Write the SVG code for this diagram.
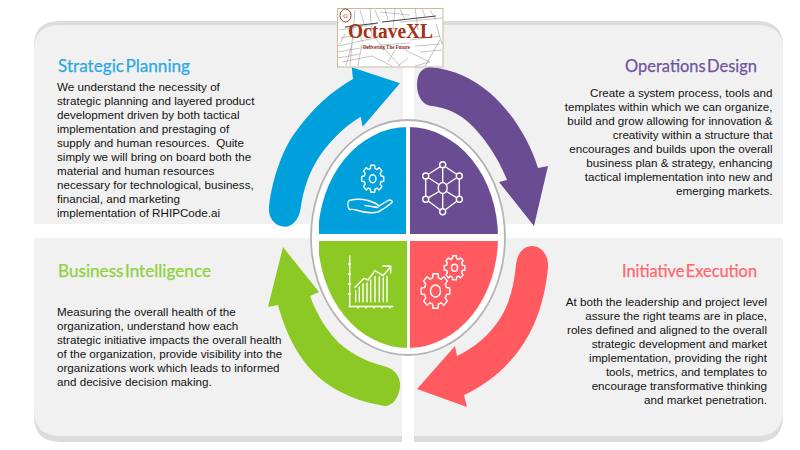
<svg xmlns="http://www.w3.org/2000/svg" width="800" height="450" viewBox="0 0 800 450">
<style>
.shadow{fill:#dcdcdc}.panel{fill:#f1f1f1}
.body{font-family:"Liberation Sans",Arial,sans-serif;font-size:11.65px;fill:#111}
.r{text-anchor:end}
.title{font-family:Lato,"Open Sans",sans-serif;font-size:17.5px;word-spacing:-3px;stroke-width:.25px}
.ic{fill:none;stroke:#fff;stroke-width:1.4;stroke-linecap:round;stroke-linejoin:round}
.sk{fill:none;stroke:#8a8a8a;stroke-width:.5}
.gear{vector-effect:non-scaling-stroke}
</style>
<defs>
<clipPath id="ec"><ellipse cx="408" cy="237.5" rx="90" ry="110.5"/></clipPath>
<path id="gear" class="gear" d="M-2.020-7.530L-1.740-9.850L1.740-9.850L2.020-7.530L3.900-6.750L5.740-8.190L8.190-5.740L6.750-3.900L7.530-2.020L9.850-1.740L9.850 1.740L7.530 2.020L6.750 3.900L8.190 5.740L5.740 8.190L3.900 6.750L2.020 7.530L1.740 9.850L-1.740 9.850L-2.020 7.530L-3.900 6.750L-5.740 8.190L-8.190 5.740L-6.750 3.900L-7.530 2.020L-9.850 1.740L-9.850-1.740L-7.530-2.020L-6.750-3.900L-8.190-5.740L-5.740-8.190L-3.900-6.750Z"/>
</defs>
<rect width="800" height="450" fill="#fff"/>
<g id="panels">
<path class="shadow" d="M34 224V45Q34 21 60 21H403V224Z"/>
<path class="panel" d="M34 224V50Q34 25 60 25H403V224Z"/>
<path class="shadow" d="M414 224V21H757Q783 21 783 47V224Z"/>
<path class="panel" d="M414 224V25H757Q783 25 783 50V224Z"/>
<path class="shadow" d="M34 238H402V442H60Q34 442 34 416Z"/>
<path class="panel" d="M34 238H402V436H60Q34 436 34 410Z"/>
<path class="shadow" d="M414 238H783V416Q783 442 757 442H414Z"/>
<path class="panel" d="M414 238H783V410Q783 436 757 436H414Z"/>
</g>
<g id="connectors">
<path fill="#00a0dc" d="M269 207C272 178 284 146 297 130C313 108 332 91 353 79L351.700 67.300L400 83.300L362.700 126.700L360.700 116.700C342 128 325 146 316 162C307 177 303 193 300.700 208C299 220 292 226.700 285 226.700C275 226.700 268 218 269 207Z"/>
<path fill="#6a4c93" d="M417 85C417 76 420 68 430 67C455 70 472 78 490 93C513 113 530 142 538 168L548 166L534 226L499 182L507 180C498 157 483 135 467 121C454 110 441 107 430 105.700C421 104 417 94 417 85Z"/>
<path fill="#ff5a5f" d="M532 246C542 246 549 256 548 268C545 300 535 330 517 353C502 372 484 386 464 395L467 407L417 389L455 346L457 356C474 348 490 335 501 317C510 302 514 285 516 265C517 254 523 246 532 246Z"/>
<path fill="#8cc925" d="M283 247L319 292L310 296C317 315 327 331 339 343C354 356 368 362 387 367C395 370 401 377 400 387C399 398 392 406 385 406C360 402 340 394 322 380C300 362 286 335 278 305L268 307Z"/>
</g>
<g id="hub">
<ellipse cx="408" cy="237.500" rx="97" ry="117.500" fill="#fff" stroke="#b4b4b4" stroke-width="1.800"/>
</g>
<g id="quadrant-strategic">
<rect x="319" y="127" width="87" height="107" fill="#00a0dc" clip-path="url(#ec)"/>
<g class="ic">
<use href="#gear" transform="translate(372.700 178.800) scale(1.120 1.370)"/>
<ellipse cx="372.700" cy="178.800" rx="3.300" ry="4"/>
<path d="M349 200.500C355 199 362 199 368 200.500C373 202 377 204 379 206L388 200.500C390 199.500 393 200.500 392 202.500C388 206 384 209 378 212C370 214 362 212 356 210C353 209 351 209.500 349.500 209.500C347.500 207 347.500 203 349 200.500ZM365 205.500C369 206 374 207 378 207.500"/>
</g>
</g>
<g id="quadrant-operations">
<rect x="410" y="127" width="88" height="107" fill="#6a4c93" clip-path="url(#ec)"/>
<g class="ic">
<path d="M442.700 165V182M442.700 194V211.700M425.700 176L439 184.500M446.500 184.500L459.300 176M425.700 199.300L439 191.500M446.500 191.500L459.300 199.300M442.700 165L459.300 176V199.300L442.700 211.700L425.700 199.300V176Z"/>
<ellipse cx="442.700" cy="188" rx="4.500" ry="5.500" fill="#6a4c93"/>
<circle cx="442.700" cy="164.700" r="3" fill="#6a4c93"/><circle cx="459.300" cy="176" r="3" fill="#6a4c93"/><circle cx="459.300" cy="199.300" r="3" fill="#6a4c93"/><circle cx="442.700" cy="211.700" r="3" fill="#6a4c93"/><circle cx="425.700" cy="199.300" r="3" fill="#6a4c93"/><circle cx="425.700" cy="176" r="3" fill="#6a4c93"/>
</g>
</g>
<g id="quadrant-intelligence">
<rect x="319" y="241" width="88" height="107" fill="#8cc925" clip-path="url(#ec)"/>
<g class="ic">
<path d="M349.700 256V307M349 306.500H392.700M348.500 264h2M348.500 274h2M348.500 284h2M348.500 294h2M358 306.500v1.500M366 306.500v1.500M374 306.500v1.500M382 306.500v1.500M390 306.500v1.500"/>
<path d="M355 287.300L364 278.300L368 280L375 270.700L383 275.700L390.700 266.700M383 266H390.700V273"/>
<path d="M355.700 301.700V290.700M359.300 301.700V287M363 301.700V284M367 301.700V283M370.700 301.700V280M375 301.700V276.700M379.300 301.700V276.700M383.300 301.700V278M387 301.700V276.700"/>
</g>
</g>
<g id="quadrant-execution">
<rect x="410" y="241" width="88" height="107" fill="#ff5a5f" clip-path="url(#ec)"/>
<g class="ic">
<use href="#gear" transform="translate(435.500 291) scale(1.450 1.750)"/>
<ellipse cx="435.500" cy="291" rx="5" ry="6"/>
<use href="#gear" transform="translate(454.500 267.800) scale(1.050 1.230)"/>
<ellipse cx="454.500" cy="267.800" rx="3" ry="3.500"/>
</g>
</g>
<g id="node-strategic">
<text class="title" x="58" y="72" fill="#29a9e1" stroke="#29a9e1" textLength="132" lengthAdjust="spacingAndGlyphs">Strategic Planning</text>
<text class="body" x="57" y="91">We understand the necessity of</text>
<text class="body" x="57" y="105">strategic planning and layered product</text>
<text class="body" x="57" y="119">development driven by both tactical</text>
<text class="body" x="57" y="133">implementation and prestaging of</text>
<text class="body" x="57" y="147" xml:space="preserve">supply and human resources.  Quite</text>
<text class="body" x="57" y="161">simply we will bring on board both the</text>
<text class="body" x="57" y="175">material and human resources</text>
<text class="body" x="57" y="189">necessary for technological, business,</text>
<text class="body" x="57" y="203">financial, and marketing</text>
<text class="body" x="57" y="217">implementation of RHIPCode.ai</text>
</g>
<g id="node-operations">
<text class="title" x="625" y="72" fill="#6f53a3" stroke="#6f53a3" textLength="132" lengthAdjust="spacingAndGlyphs">Operations Design</text>
<text class="body r" x="772.500" y="97">Create a system process, tools and</text>
<text class="body r" x="772.500" y="111">templates within which we can organize,</text>
<text class="body r" x="772.500" y="125">build and grow allowing for innovation &amp;</text>
<text class="body r" x="772.500" y="139">creativity within a structure that</text>
<text class="body r" x="772.500" y="153">encourages and builds upon the overall</text>
<text class="body r" x="772.500" y="167">business plan &amp; strategy, enhancing</text>
<text class="body r" x="772.500" y="181">tactical implementation into new and</text>
<text class="body r" x="772.500" y="195">emerging markets.</text>
</g>
<g id="node-execution">
<text class="title" x="622" y="277" fill="#ff666b" stroke="#ff666b" textLength="135" lengthAdjust="spacingAndGlyphs">Initiative Execution</text>
<text class="body r" x="767" y="306">At both the leadership and project level</text>
<text class="body r" x="767" y="320">assure the right teams are in place,</text>
<text class="body r" x="767" y="334">roles defined and aligned to the overall</text>
<text class="body r" x="767" y="348">strategic development and market</text>
<text class="body r" x="767" y="362">implementation, providing the right</text>
<text class="body r" x="767" y="376">tools, metrics, and templates to</text>
<text class="body r" x="767" y="390">encourage transformative thinking</text>
<text class="body r" x="767" y="404">and market penetration.</text>
</g>
<g id="node-intelligence">
<text class="title" x="58" y="277" fill="#8ed13a" stroke="#8ed13a" textLength="153" lengthAdjust="spacingAndGlyphs">Business Intelligence</text>
<text class="body" x="57" y="316">Measuring the overall health of the</text>
<text class="body" x="57" y="330">organization, understand how each</text>
<text class="body" x="57" y="344">strategic initiative impacts the overall health</text>
<text class="body" x="57" y="358">of the organization, provide visibility into the</text>
<text class="body" x="57" y="372">organizations work which leads to informed</text>
<text class="body" x="57" y="386">and decisive decision making.</text>
</g>
<g id="logo">
<rect x="337.500" y="8.500" width="105.500" height="58.500" fill="#fff" stroke="#c8b9a0" stroke-width="1"/>
<path class="sk" d="M338 46L375 38L400 66M355 10L350 66M370 8L372 36M395 8L393 30M415 8L418 30M340 30L375 24M400 22L442 18M410 40L440 36M405 50L430 62L415 66M440 40L425 66M338 58L360 54M380 45L410 43M430 10L436 20M380 12L410 15M340 38L352 36M395 50L388 62M338 52L372 46M360 10L364 24M375 10L380 22M385 9L388 20M400 9L405 20M422 9L426 18M342 62L372 56M372 56L392 66M352 44L346 66M362 44L358 66M415 46L440 44M420 52L442 50M408 58L398 66M436 24L442 44M345 34L340 44M360 30L362 42"/>
<path d="M345 27L378 23M382 22L436 16" fill="none" stroke="#444" stroke-width="1"/>
<ellipse cx="345.500" cy="15.500" rx="5.500" ry="6.500" fill="#fff" stroke="#a33a20" stroke-width="1"/>
<text x="345.500" y="18" font-family="'Liberation Serif',serif" font-size="6" fill="#a33a20" text-anchor="middle">O</text>
<text x="348" y="38" font-family="'Liberation Serif',serif" font-weight="700" font-size="20" fill="#a33216" textLength="85" lengthAdjust="spacingAndGlyphs">OctaveXL</text>
<text x="363" y="49" font-family="'Liberation Serif',serif" font-weight="700" font-size="6" fill="#8c2a1a" textLength="47" lengthAdjust="spacingAndGlyphs">Delivering The Future</text>
</g>
</svg>
